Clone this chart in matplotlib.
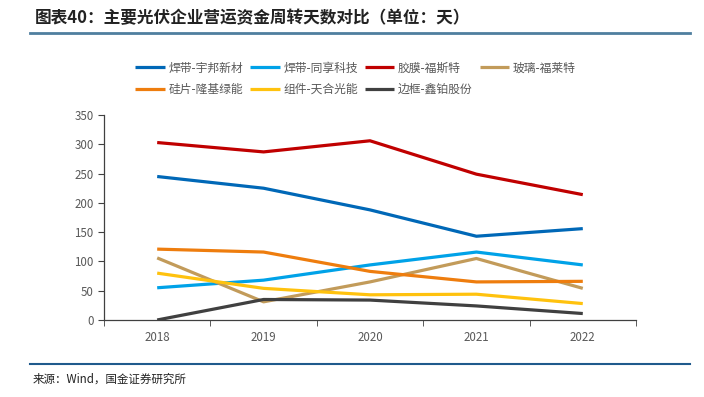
import matplotlib
matplotlib.use('Agg')
import matplotlib.pyplot as plt
from matplotlib.lines import Line2D

plt.rcParams['font.family'] = ['Noto Sans CJK SC', 'DejaVu Sans']

years = ['2018', '2019', '2020', '2021', '2022']

# days of working-capital turnover
yubang = [245, 225, 188, 143, 156]
tongxiang = [55, 68, 94, 116, 94]
fusite = [303, 287, 306, 249, 214]
fulaite = [106, 31, 65, 105, 54]
longji = [121, 116, 83, 65, 66]
tianhe = [80, 54, 43, 44, 28]
xinbo = [0, 35, 34, 24, 11]

names = ['焊带-宇邦新材', '焊带-同享科技', '胶膜-福斯特', '玻璃-福莱特',
         '硅片-隆基绿能', '组件-天合光能', '边框-鑫铂股份']
series = [yubang, tongxiang, fusite, fulaite, longji, tianhe, xinbo]
colors = ['#0068B7', '#00A2E8', '#C00000', '#C29B5A',
          '#EE7D0E', '#FFC20E', '#404040']

fig = plt.figure(figsize=(7.04, 3.97), dpi=100)
ax = fig.add_axes([0.1477, 0.194, 0.7557, 0.5163])

x = list(range(len(years)))
lines = []
for vals, c, n in zip(series, colors, names):
    ln, = ax.plot(x, vals, color=c, lw=2.3, label=n, solid_capstyle='butt')
    lines.append(ln)

ax.set_xlim(-0.5, 4.5)
ax.set_ylim(0, 350)
ax.set_yticks(range(0, 351, 50))
ax.set_xticks(x)
ax.set_xticklabels(years)
ax.set_xticks([i + 0.5 for i in range(-1, 5)], minor=True)
ax.tick_params(axis='x', which='major', length=0, pad=8)
ax.tick_params(axis='x', which='minor', length=4, direction='out', color='#404040')
ax.tick_params(axis='y', length=4, direction='out', color='#404040')
ax.tick_params(labelsize=8.3, labelcolor='#595959')
for s in ['top', 'right']:
    ax.spines[s].set_visible(False)
for s in ['left', 'bottom']:
    ax.spines[s].set_color('#404040')
    ax.spines[s].set_linewidth(0.9)

# legend filled row by row (matplotlib fills columns)
order = [0, 4, 1, 5, 2, 6, 3]
leg = fig.legend([lines[i] for i in order], [names[i] for i in order],
                 ncol=4, loc='center', bbox_to_anchor=(0.505, 0.802),
                 frameon=False, fontsize=8.5, handlelength=2.5,
                 handletextpad=0.3, columnspacing=0.6, labelspacing=0.7)
for t in leg.get_texts():
    t.set_color('#595959')

fig.text(0.05, 0.955, '图表40：主要光伏企业营运资金周转天数对比（单位：天）',
         fontsize=12, fontweight='bold', color='#222222', va='center')
fig.add_artist(Line2D([0.043, 0.98], [0.917, 0.917], color='#4F7F9F', lw=2))
fig.add_artist(Line2D([0.043, 0.98], [0.083, 0.083], color='#1F5A8C', lw=1.5))
fig.text(0.047, 0.045, '来源：Wind，国金证券研究所', fontsize=8.3,
         color='#222222', va='center')

fig.savefig('out.png', dpi=100)
